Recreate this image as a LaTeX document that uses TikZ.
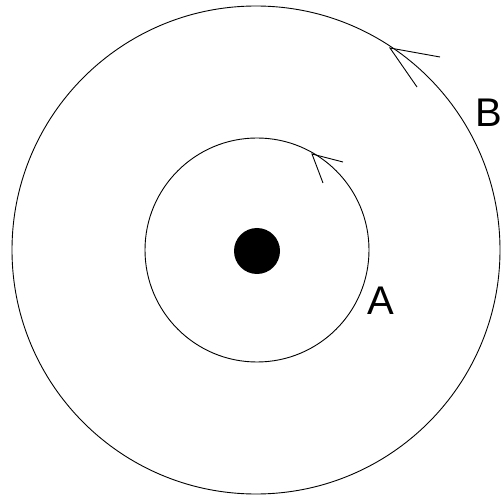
\documentclass[tikz,border=0pt]{standalone}
\usepackage{fontspec}
\setmainfont{Liberation Sans}
\begin{document}
\begin{tikzpicture}[x=1pt,y=1pt,
  ring/.style={draw=black,line width=0.9pt,circle,inner sep=0pt},
  lbl/.style={font=\fontsize{40}{40}\selectfont,anchor=base,inner sep=0pt},
  chev/.style={draw=black,line width=0.9pt}]
\useasboundingbox (0,0) rectangle (501,496);
\node[ring,minimum size=488pt] (outer) at (256,246) {};
\node[ring,minimum size=224pt] (inner) at (257,246) {};
\node[circle,fill=black,minimum size=46pt,inner sep=0pt] (mass) at (257,245) {};
% outer arrow
\coordinate (ot) at (390,448);
\coordinate (o1) at (440,439);
\coordinate (o2) at (417,409);
\draw[chev] (o1) -- (ot) -- (o2);
% inner arrow
\coordinate (it) at (312,342);
\coordinate (i1) at (343,334);
\coordinate (i2) at (323,313);
\draw[chev] (i1) -- (it) -- (i2);
\node[lbl] (A) at (381,182) {A};
\node[lbl] (B) at (489,369) {B};
\end{tikzpicture}
\end{document}
